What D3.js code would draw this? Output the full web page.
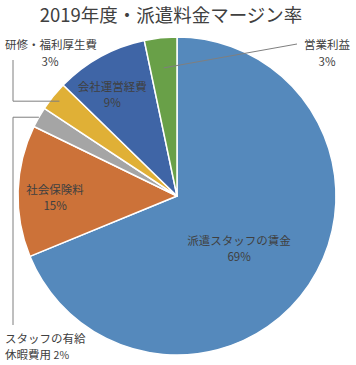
<!DOCTYPE html>
<html><head><meta charset="utf-8">
<script src="https://cdn.jsdelivr.net/npm/d3@7"></script>
<style>
html,body{margin:0;padding:0;background:#fff;}
text{font-family:"Noto Sans CJK JP","Noto Sans",sans-serif;fill:#404040;}
</style></head>
<body>
<svg id="chart" width="356" height="365"></svg>
<script>
const title = "2019年度・派遣料金マージン率";
const categories = ["派遣スタッフの賃金","社会保険料","スタッフの有給休暇費用","研修・福利厚生費","会社運営経費","営業利益"];
const values = [68.8, 13.4, 2.1, 3.0, 9.4, 3.3];
const percentLabels = ["69%","15%","2%","3%","9%","3%"];
const colors = ["#5589bc","#cc7239","#a5a5a5","#e0b036","#3f65a6","#69a048"];

const W = 356, H = 365, cx = 177, cy = 196, R = 159;
const svg = d3.select("#chart");

svg.append("text").attr("x", 171).attr("y", 22).attr("text-anchor","middle")
  .style("font-size","18.5px").text(title);

const pie = d3.pie().sort(null).value(d => d)
  .startAngle(0).endAngle(2*Math.PI);
const arcs = pie(values);
const arc = d3.arc().innerRadius(0).outerRadius(R);
const g = svg.append("g").attr("transform", `translate(${cx},${cy})`);

g.selectAll("path").data(arcs).join("path")
  .attr("d", arc)
  .attr("fill", (d,i) => colors[i])
  .attr("stroke", "#fff").attr("stroke-width", 1.5).attr("stroke-linejoin","round");

function midPt(d, f){
  const a = (d.startAngle + d.endAngle)/2;
  return [Math.sin(a)*R*f, -Math.cos(a)*R*f];
}

// inside labels (best-fit placement: radius factor + nudge)
const insideLayout = {0:{f:0.49, dx:-2.6, dy:8.4}, 1:{f:0.78, dx:2, dy:5.3}, 4:{f:0.74, dx:-8, dy:1.5}};
Object.keys(insideLayout).forEach(k => {
  const i = +k, d = arcs[i], L = insideLayout[k];
  let [x,y] = midPt(d, L.f); x += L.dx; y += L.dy;
  const t = g.append("text").attr("text-anchor","middle").style("font-size","11.5px");
  t.append("tspan").attr("x", x).attr("y", y - 3).text(categories[i]);
  t.append("tspan").attr("x", x).attr("y", y + 13).text(percentLabels[i]);
});

const line = d3.line();
const lead = svg.append("g").attr("fill","none").attr("stroke","#7f7f7f").attr("stroke-width",1);

// 営業利益 (index 5)
{
  const d = arcs[5]; const [px,py] = midPt(d, 0.81);
  lead.append("path").attr("d", line([[cx+px, cy+py],[297,44]]));
  const t = svg.append("text").attr("text-anchor","middle").style("font-size","11.5px");
  t.append("tspan").attr("x", 327).attr("y", 49).text(categories[5]);
  t.append("tspan").attr("x", 327).attr("y", 66).text(percentLabels[5]);
}
// 研修・福利厚生費 (index 3)
{
  const d = arcs[3]; const [px,py] = midPt(d, 0.95);
  lead.append("path").attr("d", line([[13,60],[13,cy+py],[cx+px, cy+py]]));
  const t = svg.append("text").attr("text-anchor","middle").style("font-size","11.5px");
  t.append("tspan").attr("x", 51).attr("y", 49).text(categories[3]);
  t.append("tspan").attr("x", 50).attr("y", 66).text(percentLabels[3]);
}
// スタッフの有給休暇費用 (index 2)
{
  const d = arcs[2]; const [px,py] = midPt(d, 1.0);
  lead.append("path").attr("d", line([[cx+px, cy+py],[13,cy+py],[13,325]]));
  const t = svg.append("text").attr("text-anchor","start").style("font-size","11.5px");
  t.append("tspan").attr("x", 5).attr("y", 343).text("スタッフの有給");
  t.append("tspan").attr("x", 5).attr("y", 359).text("休暇費用 ");
  t.append("tspan").style("font-size","10.5px").text(percentLabels[2]);
}
</script>
</body></html>
